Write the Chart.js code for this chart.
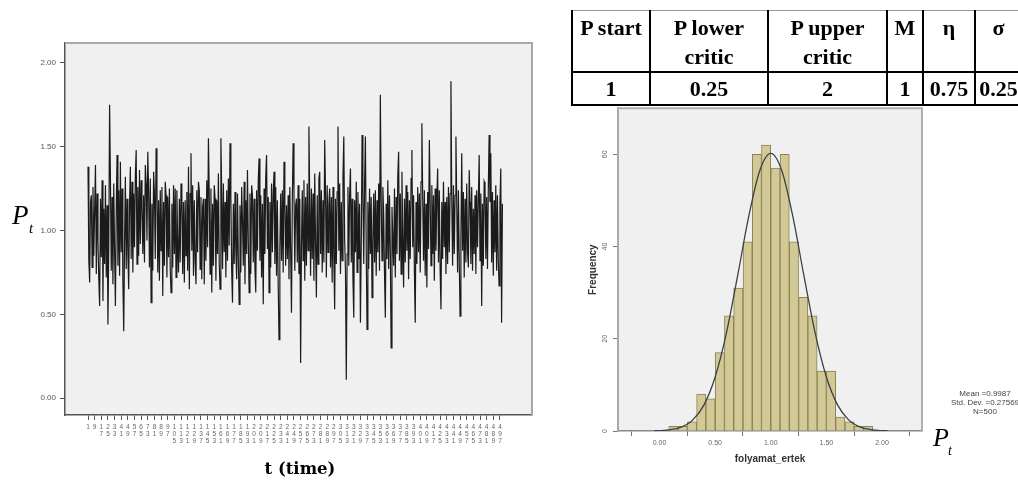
<!DOCTYPE html>
<html>
<head>
<meta charset="utf-8">
<script src="https://cdn.jsdelivr.net/npm/chart.js@4.4.0/dist/chart.umd.min.js"></script>
<style>
  body { margin: 0; width: 1018px; height: 480px; overflow: hidden; background: #fff; position: relative; font-family: Arial, "Liberation Sans", sans-serif; }
  #lineBox { position: absolute; left: 0; top: 0; width: 560px; height: 480px; }
  #histBox { position: absolute; left: 560px; top: 100px; width: 458px; height: 380px; }
  .pt { position: absolute; font-family: "Liberation Serif", serif; font-style: italic; color: #000; white-space: nowrap; }
  #timeTitle { position: absolute; left: 200px; width: 200px; top: 458px; text-align: center; font: bold 16.5px "DejaVu Serif", serif; line-height: 22px; }
  #stats { position: absolute; left: 935px; top: 389px; width: 100px; text-align: center; font: 8px Arial, sans-serif; line-height: 9px; color: #444; }
  #params { position: absolute; left: 571px; top: 10px; width: 450px; border-collapse: collapse; table-layout: fixed; font: bold 22px "Liberation Serif", serif; color: #000; }
  #params td { border: 2px solid #000; text-align: center; padding: 0; }
  #params tr.head td { vertical-align: top; line-height: 29px; height: 60px; padding-top: 2px; box-sizing: border-box; border-top: 1px solid #999; }
  #params tr.vals td { height: 31px; line-height: 31px; vertical-align: middle; }
</style>
</head>
<body>
<div id="lineBox"><canvas id="lineChart" width="560" height="480"></canvas></div>
<div id="histBox"><canvas id="histChart" width="458" height="380"></canvas></div>

<span class="pt" style="left:12px; top:202px; font-size:27px; line-height:27px;">P</span>
<span class="pt" style="left:29px; top:221px; font-size:15px; line-height:15px;">t</span>
<div id="timeTitle">t (time)</div>

<table id="params">
  <colgroup><col style="width:78px"><col style="width:118px"><col style="width:119px"><col style="width:36px"><col style="width:52px"><col style="width:47px"></colgroup>
  <tr class="head"><td>P start</td><td>P lower<br>critic</td><td>P upper<br>critic</td><td>M</td><td>η</td><td>σ</td></tr>
  <tr class="vals"><td>1</td><td>0.25</td><td>2</td><td>1</td><td>0.75</td><td>0.25</td></tr>
</table>

<div id="stats">Mean =0.9987<br>Std. Dev. =0.27569<br>N=500</div>
<span class="pt" style="left:933px; top:425px; font-size:26px; line-height:26px;">P</span>
<span class="pt" style="left:948px; top:444px; font-size:14px; line-height:14px;">t</span>

<script>
// P_t series, t = 1..500 (20 per row)
const tValues = [
  1.38, 0.82, 0.69, 1.17, 1.21, 0.78, 1.26, 0.85, 1.12, 1.39, 0.74, 1.22, 0.93, 0.71, 0.55, 1.19, 0.84, 1.30, 0.58, 1.13,
  0.80, 1.27, 0.72, 1.15, 0.44, 0.90, 1.75, 1.31, 0.76, 1.20, 0.68, 1.28, 0.88, 0.55, 1.12, 1.45, 0.79, 1.24, 0.73, 1.41,
  0.87, 1.25, 0.70, 0.40, 0.92, 1.32, 0.77, 1.19, 0.86, 0.65, 1.15, 1.38, 0.83, 1.29, 0.75, 1.22, 0.90, 1.33, 1.48, 0.80,
  1.26, 0.85, 1.36, 0.92, 1.30, 1.14, 0.86, 1.21, 0.81, 1.39, 1.28, 0.94, 1.47, 1.23, 0.78, 1.31, 0.57, 1.16, 0.76, 1.35,
  1.22, 0.83, 1.49, 1.27, 0.75, 1.18, 0.70, 1.24, 0.88, 1.26, 0.61, 1.17, 0.79, 1.29, 1.21, 0.72, 1.20, 0.84, 1.25, 0.77,
  0.63, 1.16, 0.78, 1.27, 0.86, 1.25, 0.72, 1.24, 0.91, 0.75, 1.19, 0.81, 1.28, 1.21, 0.74, 1.17, 0.69, 1.18, 0.85, 1.23,
  0.76, 1.38, 0.65, 1.22, 1.46, 0.88, 1.27, 0.73, 1.18, 0.82, 0.68, 1.24, 0.87, 1.29, 1.24, 0.77, 1.20, 0.71, 1.14, 1.19,
  0.68, 1.19, 0.82, 1.30, 0.90, 1.55, 1.21, 0.74, 1.25, 0.63, 1.16, 0.79, 1.27, 1.19, 0.70, 1.18, 0.86, 1.34, 0.81, 0.65,
  1.55, 1.22, 0.77, 1.28, 0.87, 1.17, 0.72, 1.24, 0.82, 1.31, 0.91, 1.52, 1.20, 0.76, 0.57, 1.16, 0.80, 1.23, 0.88, 0.71,
  1.22, 0.83, 0.56, 1.15, 0.75, 1.26, 1.06, 0.79, 1.29, 0.68, 1.18, 0.86, 1.36, 0.93, 0.63, 1.22, 0.74, 1.27, 1.21, 0.81,
  1.19, 0.77, 0.63, 1.24, 0.88, 1.30, 1.43, 0.82, 1.21, 0.72, 1.16, 0.56, 1.25, 0.86, 1.32, 1.45, 0.89, 1.20, 0.63, 1.17,
  0.78, 1.28, 0.87, 1.22, 1.35, 0.80, 1.26, 0.73, 1.18, 0.68, 0.35, 0.89, 1.22, 0.82, 1.24, 0.75, 1.41, 1.16, 0.79, 1.15,
  0.83, 1.21, 0.71, 1.26, 0.87, 0.51, 1.18, 1.52, 1.23, 0.76, 1.15, 1.19, 0.81, 1.27, 0.74, 1.19, 0.21, 0.90, 1.24, 0.82,
  1.30, 0.70, 1.20, 0.79, 1.28, 0.88, 1.62, 1.17, 0.73, 1.25, 0.83, 1.22, 0.70, 1.34, 0.91, 0.60, 1.21, 0.80, 1.31, 1.35,
  0.86, 1.24, 0.75, 1.18, 0.81, 1.54, 1.22, 0.72, 1.27, 0.87, 1.16, 1.25, 0.78, 1.20, 0.69, 1.26, 0.83, 0.53, 1.19, 0.80,
  1.23, 1.62, 0.88, 1.28, 0.74, 1.17, 0.82, 1.32, 1.56, 0.95, 0.76, 0.11, 0.86, 1.26, 0.79, 1.21, 1.37, 0.81, 1.19, 0.71,
  0.48, 1.18, 0.87, 1.29, 0.75, 1.23, 0.83, 1.16, 0.45, 0.91, 1.57, 1.22, 0.80, 1.27, 1.56, 0.88, 0.41, 1.17, 0.77, 1.25,
  0.86, 1.20, 0.60, 0.94, 1.22, 0.81, 1.24, 0.73, 1.18, 0.87, 1.28, 0.76, 1.81, 1.19, 0.82, 1.26, 1.10, 0.75, 0.48, 1.16,
  0.83, 1.30, 0.77, 1.21, 0.88, 0.30, 1.14, 0.95, 0.79, 1.25, 0.72, 1.20, 0.86, 1.33, 1.47, 0.82, 1.22, 0.74, 1.35, 0.96,
  0.66, 1.19, 0.81, 1.27, 0.88, 1.23, 0.71, 1.18, 0.83, 1.31, 1.48, 0.90, 1.21, 0.76, 0.45, 1.17, 0.80, 1.26, 0.87, 1.22,
  0.75, 1.29, 1.64, 1.20, 0.82, 1.24, 0.73, 1.16, 0.66, 1.23, 0.89, 1.54, 1.18, 0.79, 1.27, 0.86, 1.21, 0.70, 1.25, 0.88,
  1.19, 1.37, 0.81, 1.24, 0.76, 0.53, 1.17, 0.83, 1.29, 0.90, 1.17, 0.74, 1.20, 0.80, 1.26, 0.87, 1.22, 1.89, 1.18, 0.79,
  1.27, 0.86, 1.21, 1.56, 1.16, 0.75, 1.24, 0.82, 0.49, 0.95, 1.46, 0.88, 1.23, 0.72, 1.19, 0.81, 1.28, 0.87, 0.78, 1.36,
  1.17, 0.80, 1.26, 0.76, 1.13, 0.86, 1.21, 0.74, 1.24, 0.90, 1.18, 1.45, 0.82, 1.22, 0.55, 1.16, 0.79, 1.29, 1.27, 0.83,
  1.20, 0.77, 1.25, 1.57, 1.17, 1.46, 0.81, 1.23, 0.73, 1.18, 0.87, 1.27, 0.76, 1.21, 0.82, 0.67, 1.16, 1.37, 0.45, 1.16
];
const tTickLabels = [1, 9, 17, 25, 33, 41, 49, 57, 65, 73, 81, 89, 97, 105, 113, 121, 129, 137, 145, 153, 161,
  169, 177, 185, 193, 201, 209, 217, 225, 233, 241, 249, 257, 265, 273, 281, 289, 297, 305, 313, 321, 329,
  337, 345, 353, 361, 369, 377, 385, 393, 401, 409, 417, 425, 433, 441, 449, 457, 465, 473, 481, 489, 497];
const ptTicks = [0, 0.5, 1, 1.5, 2];

// histogram of folyamat_ertek
const binCenters = [0.125, 0.208, 0.292, 0.375, 0.458, 0.542, 0.625, 0.708, 0.792, 0.875, 0.958,
  1.042, 1.125, 1.208, 1.292, 1.375, 1.458, 1.542, 1.625, 1.708, 1.792, 1.875];
const binCounts = [1, 1, 2, 8, 7, 17, 25, 31, 41, 60, 62, 57, 60, 41, 29, 25, 13, 13, 3, 2, 1, 1];
const curveX = [-0.05, 0, 0.1, 0.2, 0.3, 0.4, 0.5, 0.6, 0.7, 0.8, 0.9, 1.0,
  1.1, 1.2, 1.3, 1.4, 1.5, 1.6, 1.7, 1.8, 1.9, 2.0, 2.05];
const curveY = [0.04, 0.08, 0.3, 0.91, 2.42, 5.67, 11.7, 21.1, 33.4, 46.3, 56.4, 60.2,
  56.4, 46.3, 33.4, 21.1, 11.7, 5.67, 2.42, 0.91, 0.3, 0.08, 0.04];
const freqTicks = [0, 20, 40, 60];
const ertekTicks = [0, 0.5, 1, 1.5, 2];

// grey plot background + light frame on top/right, like SPSS
const plotFrame = {
  id: 'plotFrame',
  beforeDraw(chart, args, opts) {
    const ctx = chart.ctx;
    const a = chart.chartArea;
    ctx.save();
    ctx.fillStyle = opts.color;
    ctx.fillRect(a.left, a.top, a.right - a.left, a.bottom - a.top);
    ctx.restore();
  },
  afterDraw(chart, args, opts) {
    const ctx = chart.ctx;
    const a = chart.chartArea;
    ctx.save();
    ctx.strokeStyle = opts.frame;
    ctx.lineWidth = opts.frameWidth;
    ctx.beginPath();
    ctx.moveTo(a.left, a.top);
    ctx.lineTo(a.right, a.top);
    ctx.lineTo(a.right, a.bottom);
    ctx.stroke();
    ctx.restore();
  }
};

Chart.defaults.font.family = 'Arial, "Liberation Sans", sans-serif';

new Chart(document.getElementById('lineChart'), {
  type: 'line',
  data: {
    datasets: [{
      data: tValues.map((v, i) => ({ x: i + 1, y: v })),
      borderColor: '#1b1b1b',
      borderWidth: 1.2,
      pointRadius: 0,
      tension: 0
    }]
  },
  options: {
    responsive: false,
    animation: false,
    events: [],
    layout: { padding: { left: 0, right: 28, top: 43, bottom: 0 } },
    plugins: {
      legend: { display: false },
      tooltip: { enabled: false },
      plotFrame: { color: '#f0f0f0', frame: '#a8a8a8', frameWidth: 2 }
    },
    scales: {
      x: {
        type: 'linear',
        min: -26.7,
        max: 535.6,
        afterBuildTicks: s => { s.ticks = tTickLabels.map(v => ({ value: v })); },
        afterFit: s => { s.height = 65; },
        grid: { drawOnChartArea: false, drawTicks: true, tickLength: 5, color: '#555' },
        border: { display: true, color: '#555', width: 1.5 },
        ticks: {
          autoSkip: false, minRotation: 0, maxRotation: 0, padding: 3,
          color: '#666', font: { size: 6.5, lineHeight: 1.15 },
          callback: v => String(v).split('')
        }
      },
      y: {
        min: -0.1,
        max: 2.118,
        afterBuildTicks: s => { s.ticks = ptTicks.map(v => ({ value: v })); },
        afterFit: s => { s.width = 65; },
        grid: { drawOnChartArea: false, drawTicks: true, tickLength: 5, color: '#555' },
        border: { display: true, color: '#555', width: 1.5 },
        ticks: { color: '#555', font: { size: 8 }, padding: 4, callback: v => v.toFixed(2) }
      }
    }
  },
  plugins: [plotFrame]
});

new Chart(document.getElementById('histChart'), {
  data: {
    datasets: [{
      type: 'line',
      order: 0,
      data: curveX.map((x, i) => ({ x: x, y: curveY[i] })),
      borderColor: '#3c4048',
      borderWidth: 1.3,
      pointRadius: 0,
      cubicInterpolationMode: 'monotone'
    }, {
      type: 'bar',
      order: 1,
      data: binCenters.map((x, i) => ({ x: x, y: binCounts[i] })),
      backgroundColor: '#d2c996',
      borderColor: '#8a8250',
      borderWidth: 1,
      barPercentage: 1,
      categoryPercentage: 1
    }]
  },
  options: {
    responsive: false,
    animation: false,
    events: [],
    layout: { padding: { left: 27, right: 96, top: 4, bottom: 11 } },
    plugins: {
      legend: { display: false },
      tooltip: { enabled: false },
      plotFrame: { color: '#f0f0f0', frame: '#b0b0b0', frameWidth: 2 }
    },
    scales: {
      x: {
        type: 'linear',
        min: -0.1,
        max: 2.086,
        afterBuildTicks: s => { s.ticks = ertekTicks.map(v => ({ value: v })); },
        afterFit: s => { s.height = 38; },
        grid: { drawOnChartArea: false, drawTicks: true, tickLength: 5, color: '#777' },
        border: { display: true, color: '#888', width: 1.5 },
        ticks: { color: '#666', font: { size: 7 }, padding: 3, maxRotation: 0, callback: v => v.toFixed(2) },
        title: { display: true, text: 'folyamat_ertek', color: '#333', font: { size: 10, weight: 'bold' }, padding: { top: 2, bottom: 4 } }
      },
      y: {
        min: 0,
        max: 70,
        afterBuildTicks: s => { s.ticks = freqTicks.map(v => ({ value: v })); },
        afterFit: s => { s.width = 31; },
        grid: { drawOnChartArea: false, drawTicks: true, tickLength: 5, color: '#777' },
        border: { display: true, color: '#aaa', width: 2 },
        ticks: { color: '#666', font: { size: 7 }, padding: 4, minRotation: 90, maxRotation: 90, crossAlign: 'center' },
        title: { display: true, text: 'Frequency', color: '#333', font: { size: 10, weight: 'bold' }, padding: { top: 0, bottom: 0 } }
      }
    }
  },
  plugins: [plotFrame]
});
</script>
</body>
</html>
